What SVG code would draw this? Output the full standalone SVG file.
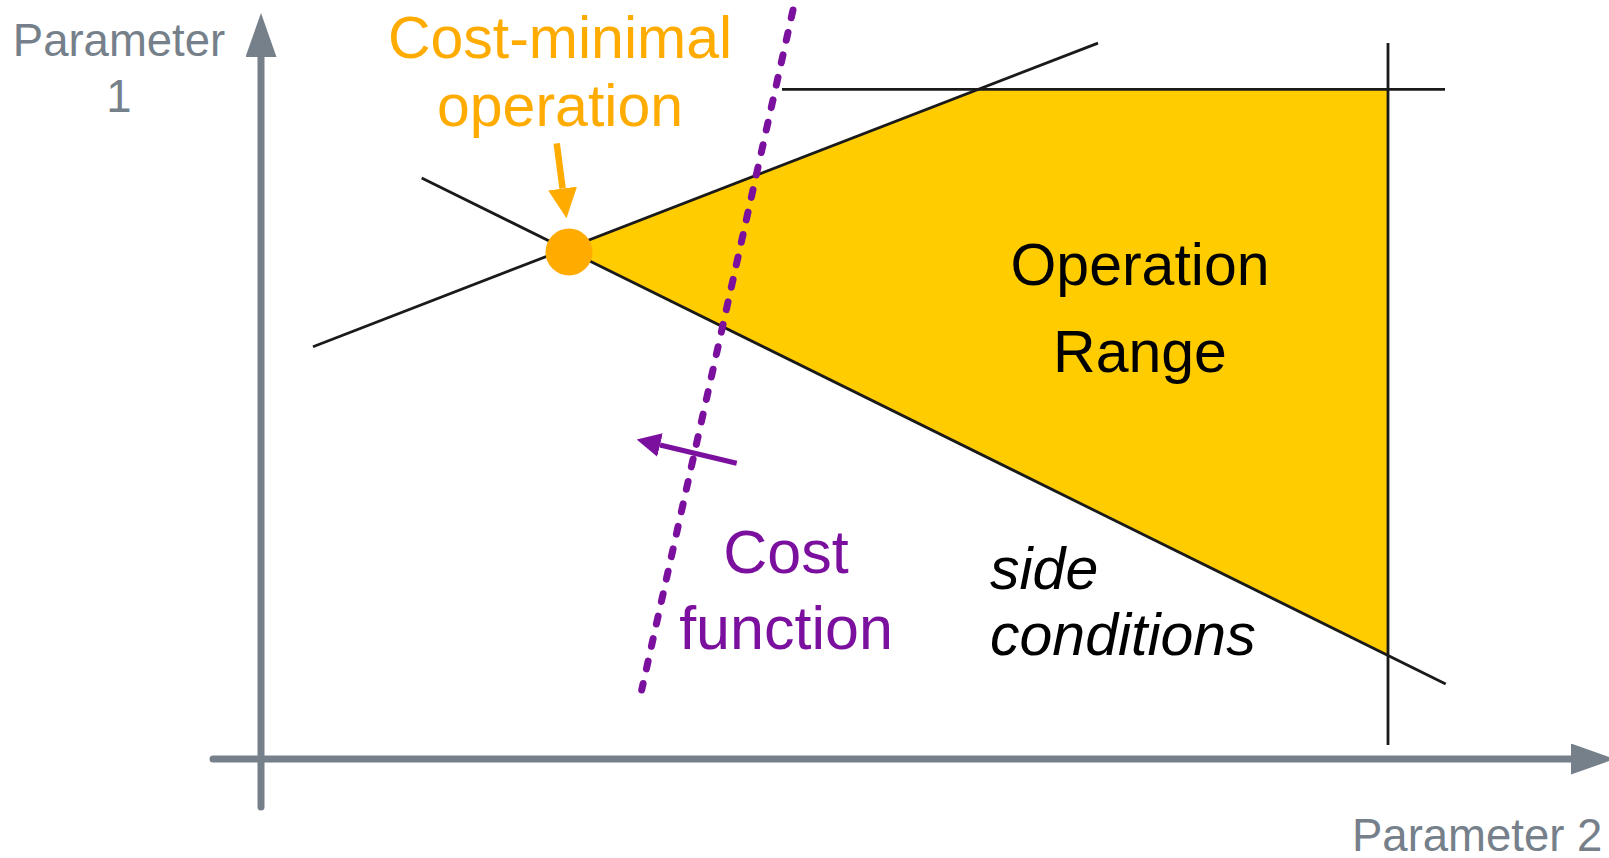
<svg xmlns="http://www.w3.org/2000/svg" width="1609" height="858" viewBox="0 0 1609 858">
  <style>
    .axis { stroke: #75808a; stroke-width: 7; stroke-linecap: round; fill: none; }
    .bound { stroke: #1a1a1a; stroke-width: 2.8; fill: none; }
    .lbl { font-family: "Liberation Sans", Arial, sans-serif; }
    .grey { fill: #75808a; font-size: 45.5px; }
    .orange { fill: #ffab00; font-size: 59px; }
    .purple { fill: #7b0f9e; font-size: 61px; }
    .black { fill: #000000; font-size: 59px; }
  </style>
  <defs>
    <marker id="ax-head" markerWidth="44" markerHeight="31" refX="0" refY="15.5" orient="auto" markerUnits="userSpaceOnUse">
      <path d="M0,0 L44,15.5 L0,31 Z" fill="#75808a"/>
    </marker>
    <marker id="org-head" markerWidth="30" markerHeight="30" refX="0" refY="15" orient="auto" markerUnits="userSpaceOnUse">
      <path d="M0,0.5 L30,15 L0,29.5 Z" fill="#ffab00"/>
    </marker>
    <marker id="pur-head" markerWidth="24" markerHeight="24" refX="0" refY="12" orient="auto" markerUnits="userSpaceOnUse">
      <path d="M0,0 L24,12 L0,24 Z" fill="#7b0f9e"/>
    </marker>
  </defs>

  <!-- feasible operation range -->
  <g id="operation-range">
    <polygon points="565.6,249.1 978.5,89.3 1388,89.3 1388,656" fill="#ffcc00"/>
    <text class="lbl black" x="1140" y="285" text-anchor="middle">Operation</text>
    <text class="lbl black" x="1140" y="372" text-anchor="middle">Range</text>
  </g>

  <!-- side conditions (constraint lines) -->
  <g id="side-conditions">
    <line class="bound" x1="782" y1="89.3" x2="1445" y2="89.3"/>
    <line class="bound" x1="1388" y1="43" x2="1388" y2="745"/>
    <line class="bound" x1="313" y1="346.8" x2="1098" y2="43.1"/>
    <line class="bound" x1="421.7" y1="178" x2="1445.7" y2="684"/>
    <text class="lbl black" x="990" y="589" font-style="italic">side</text>
    <text class="lbl black" x="990" y="655" font-style="italic">conditions</text>
  </g>

  <!-- axes -->
  <g id="axes">
    <line class="axis" x1="261" y1="807" x2="261" y2="57" marker-end="url(#ax-head)"/>
    <line class="axis" x1="213" y1="759" x2="1571" y2="759" marker-end="url(#ax-head)"/>
    <text class="lbl grey" x="119" y="56" text-anchor="middle">Parameter</text>
    <text class="lbl grey" x="119" y="112" text-anchor="middle">1</text>
    <text class="lbl grey" x="1352" y="851">Parameter 2</text>
  </g>

  <!-- cost function -->
  <g id="cost-function">
    <line x1="793" y1="10" x2="641.7" y2="690" stroke="#7b0f9e" stroke-width="7" stroke-linecap="round" stroke-dasharray="8 15" fill="none"/>
    <text class="lbl purple" x="786" y="573" text-anchor="middle">Cost</text>
    <text class="lbl purple" x="786" y="649" text-anchor="middle">function</text>
  </g>

  <!-- optimum -->
  <g id="cost-minimal">
    <circle cx="569" cy="252" r="23.5" fill="#ffab00"/>
    <text class="lbl orange" x="560" y="58" text-anchor="middle">Cost-minimal</text>
    <text class="lbl orange" x="560" y="126" text-anchor="middle">operation</text>
  </g>

  <!-- connectors -->
  <g id="connectors">
    <line x1="556.7" y1="143.3" x2="562.6" y2="188.5" stroke="#ffab00" stroke-width="6.5" marker-end="url(#org-head)"/>
    <line x1="736.7" y1="463.3" x2="660" y2="445" stroke="#7b0f9e" stroke-width="5" marker-end="url(#pur-head)"/>
  </g>
</svg>
